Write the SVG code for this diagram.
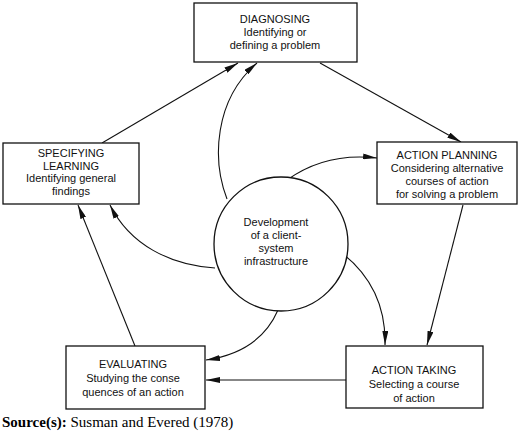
<svg xmlns="http://www.w3.org/2000/svg" width="520" height="435" viewBox="0 0 520 435">
<style>
.box{fill:#fff;stroke:#111;stroke-width:1.3}
.t{font-family:"Liberation Sans",Arial,sans-serif;font-size:11px;fill:#111;text-anchor:middle}
.c{fill:none;stroke:#111;stroke-width:1.1;marker-end:url(#ah)}
</style>
<defs>
<marker id="ah" viewBox="0 0 14 6" refX="14" refY="3" markerWidth="14" markerHeight="6" markerUnits="userSpaceOnUse" orient="auto">
<path d="M0,0 L14,3 L0,6 Z" fill="#111"/>
</marker>
</defs>
<rect width="520" height="435" fill="#fff"/>
<g id="connectors">
<line class="c" x1="102" y1="143" x2="238" y2="63"/>
<path class="c" d="M227,199 C212,160 214,100 257,63"/>
<line class="c" x1="320" y1="63" x2="461" y2="142"/>
<path class="c" d="M287,180 C312,162 342,154 377,158"/>
<line class="c" x1="463" y1="205" x2="427" y2="345"/>
<path class="c" d="M342,253 C370,275 386,305 385,345"/>
<line class="c" x1="346" y1="380" x2="206" y2="380"/>
<path class="c" d="M278,310 C265,340 240,355 206,360"/>
<line class="c" x1="135" y1="346" x2="78" y2="205"/>
<path class="c" d="M215,268 C170,265 130,245 110,205"/>
</g>
<g id="diagnosing">
<rect class="box" x="194" y="3" width="163" height="59"/>
<text class="t" x="275" y="23">DIAGNOSING</text>
<text class="t" x="275" y="36">Identifying or</text>
<text class="t" x="275" y="49">defining a problem</text>
</g>
<g id="specifying">
<rect class="box" x="3" y="143" width="136" height="61"/>
<text class="t" x="71" y="157">SPECIFYING</text>
<text class="t" x="71" y="169.5">LEARNING</text>
<text class="t" x="71" y="182">Identifying general</text>
<text class="t" x="71" y="194.5">findings</text>
</g>
<g id="planning">
<rect class="box" x="377" y="142" width="140" height="62"/>
<text class="t" x="447" y="159">ACTION PLANNING</text>
<text class="t" x="447" y="172">Considering  alternative</text>
<text class="t" x="447" y="185">courses of  action</text>
<text class="t" x="447" y="198">for solving a problem</text>
</g>
<g id="center">
<circle cx="281" cy="244" r="67" fill="#fff" stroke="#111" stroke-width="1.3"/>
<text class="t" x="276" y="226">Development</text>
<text class="t" x="276" y="239">of a client-</text>
<text class="t" x="276" y="252">system</text>
<text class="t" x="276" y="265">infrastructure</text>
</g>
<g id="evaluating">
<rect class="box" x="66" y="346" width="139" height="63"/>
<text class="t" x="133" y="368">EVALUATING</text>
<text class="t" x="133" y="382">Studying the conse</text>
<text class="t" x="133" y="396">quences  of an action</text>
</g>
<g id="taking">
<rect class="box" x="346" y="346" width="137" height="62"/>
<text class="t" x="414" y="374">ACTION TAKING</text>
<text class="t" x="414" y="388">Selecting a course</text>
<text class="t" x="414" y="402">of action</text>
</g>
<text x="2" y="427" font-family="'Liberation Serif','Times New Roman',serif" font-size="15" fill="#000"><tspan font-weight="bold">Source(s):</tspan> Susman and Evered (1978)</text>
</svg>
